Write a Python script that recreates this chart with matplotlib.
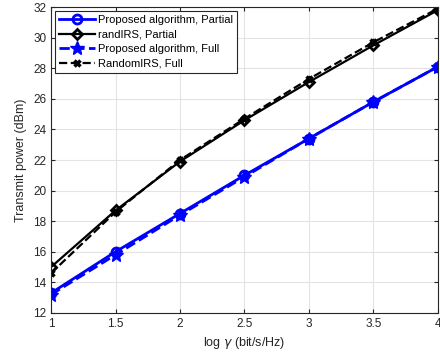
import matplotlib.pyplot as plt

plt.rcParams['font.family'] = ['Liberation Sans', 'DejaVu Sans']

rate = [1, 1.5, 2, 2.5, 3, 3.5, 4]
prop_partial = [13.3, 16.0, 18.5, 21.0, 23.4, 25.8, 28.1]
rand_partial = [15.0, 18.7, 21.9, 24.6, 27.1, 29.5, 31.8]
prop_full = [13.2, 15.8, 18.4, 20.9, 23.4, 25.8, 28.1]
rand_full = [14.6, 18.6, 22.0, 24.7, 27.3, 29.7, 31.9]

fig = plt.figure(figsize=(4.4, 3.56), dpi=100)
ax = fig.add_axes([0.116, 0.121, 0.879, 0.859])

ax.plot(rate, prop_partial, '-o', color='blue', lw=2, ms=6.5, mfc='none', mew=2,
        label='Proposed algorithm, Partial')
ax.plot(rate, rand_partial, '-D', color='black', lw=1.6, ms=5.5, mfc='none', mew=2,
        label='randIRS, Partial')
ax.plot(rate, prop_full, '--*', color='blue', lw=2, ms=10,
        label='Proposed algorithm, Full')
ax.plot(rate, rand_full, '--x', color='black', lw=1.6, ms=5, mew=2.5,
        label='RandomIRS, Full')

ax.set_xlim(1, 4)
ax.set_ylim(12, 32)
ax.set_xticks([1, 1.5, 2, 2.5, 3, 3.5, 4])
ax.set_xticklabels(['1', '1.5', '2', '2.5', '3', '3.5', '4'])
ax.set_yticks(range(12, 33, 2))
ax.grid(True, color='#e3e3e3', lw=0.8)
ax.set_axisbelow(True)
ax.tick_params(direction='in', top=True, right=True, labelsize=8.5, length=3,
               color='#262626', labelcolor='#262626')
for s in ax.spines.values():
    s.set_color('#262626')
    s.set_linewidth(0.8)
ax.set_xlabel(r'log $\gamma$ (bit/s/Hz)', fontsize=9, color='#262626')
ax.set_ylabel('Transmit power (dBm)', fontsize=9, color='#262626')

leg = ax.legend(loc='upper left', fontsize=8, handlelength=3.3,
                borderaxespad=0.35, labelspacing=0.42, handletextpad=0.2,
                borderpad=0.35, fancybox=False, framealpha=1)
leg.get_frame().set_edgecolor('#262626')
leg.get_frame().set_linewidth(0.8)

fig.savefig('out.png', dpi=100)
